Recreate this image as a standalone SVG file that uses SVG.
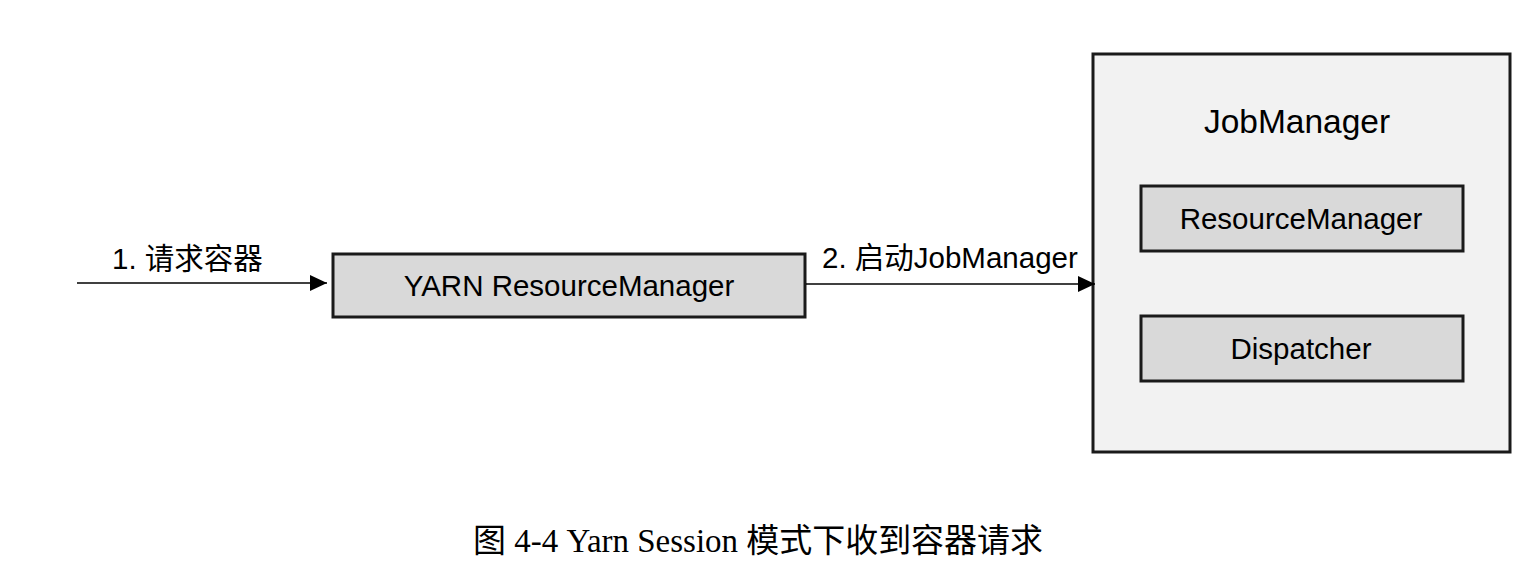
<svg xmlns="http://www.w3.org/2000/svg" width="1532" height="576" viewBox="0 0 1532 576">
<style>
.box{fill:#d9d9d9;stroke:#1a1a1a;stroke-width:3}
.outer{fill:#f2f2f2;stroke:#1a1a1a;stroke-width:3}
.t{font-family:"Liberation Sans","Noto Sans CJK SC",sans-serif;font-size:29.5px;fill:#000}
.c{text-anchor:middle}
.line{stroke:#000;stroke-width:1.5;fill:none}
.cap{font-family:"Liberation Serif","Noto Sans CJK SC",serif;font-size:33px;fill:#000}
</style>
<defs>
<marker id="arr" markerWidth="17" markerHeight="16" refX="17" refY="8" orient="auto" markerUnits="userSpaceOnUse">
<path d="M0,0 L17,8 L0,16 Z" fill="#000"/>
</marker>
</defs>
<rect width="1532" height="576" fill="#fff"/>
<g id="yarn-rm">
<rect class="box" x="333" y="254" width="472" height="63"/>
<text class="t c" x="569" y="296">YARN ResourceManager</text>
</g>
<g id="jobmanager">
<rect class="outer" x="1093" y="54" width="417" height="398"/>
<text class="t c" x="1297" y="133" style="font-size:33.5px">JobManager</text>
</g>
<g id="resourcemanager">
<rect class="box" x="1141" y="186" width="322" height="65"/>
<text class="t c" x="1301" y="229">ResourceManager</text>
</g>
<g id="dispatcher">
<rect class="box" x="1141" y="316" width="322" height="65"/>
<text class="t c" x="1301" y="359">Dispatcher</text>
</g>
<g id="connectors">
<line class="line" x1="77" y1="283" x2="327" y2="283" marker-end="url(#arr)"/>
<text class="t" x="112" y="269">1. 请求容器</text>
<line class="line" x1="806" y1="284" x2="1095" y2="284" marker-end="url(#arr)"/>
<text class="t" x="822" y="268">2. 启动JobManager</text>
</g>
<text class="cap" x="473" y="552" textLength="570" lengthAdjust="spacingAndGlyphs">图 4-4 Yarn Session 模式下收到容器请求</text>
</svg>
